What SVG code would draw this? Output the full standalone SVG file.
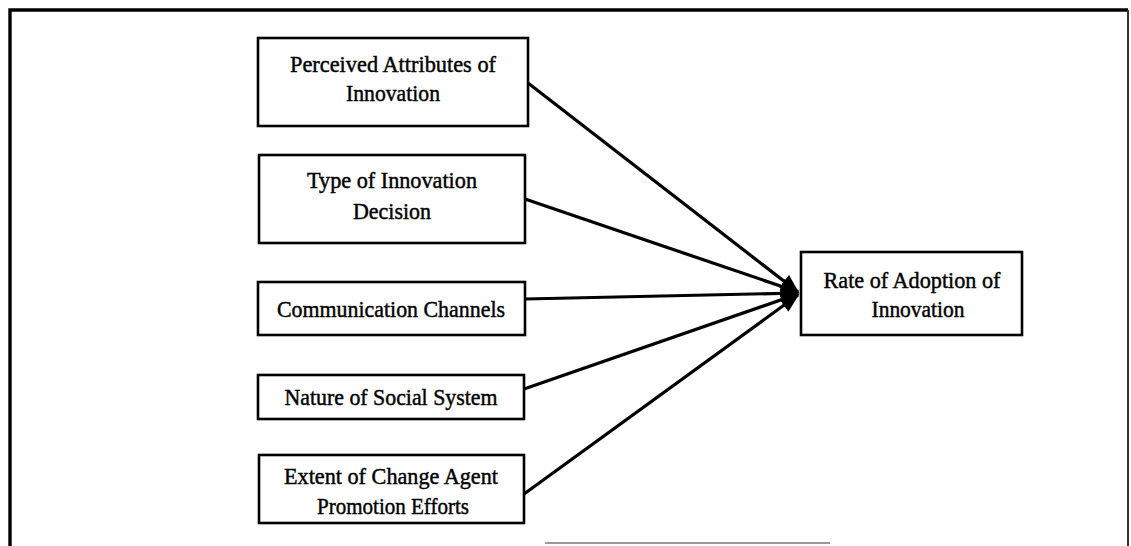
<svg xmlns="http://www.w3.org/2000/svg" width="1131" height="546" viewBox="0 0 1131 546">
  <style>
    .box { fill: #fff; stroke: #000; stroke-width: 2.6; }
    .lbl { font-family: "Liberation Serif", "Times New Roman", serif; font-size: 24px; fill: #000; stroke: #000; stroke-width: 0.45; text-anchor: middle; }
    .conn { stroke: #000; stroke-width: 3.2; fill: none; }
  </style>
  <defs>
    <marker id="arrow" markerWidth="6" markerHeight="5" refX="5.5" refY="2.5" orient="auto" markerUnits="strokeWidth">
      <path d="M0,0 L6,2.5 L0,5 Z" fill="#000"/>
    </marker>
  </defs>
  <rect width="1131" height="546" fill="#fff"/>
  <!-- outer frame: heavy top and left rules, lighter right rule -->
  <path d="M10,546 V10 H1128" fill="none" stroke="#000" stroke-width="3.4"/>
  <line x1="1128" y1="10" x2="1128" y2="546" stroke="#333" stroke-width="2"/>
  <line x1="545" y1="543" x2="830" y2="543" stroke="#777" stroke-width="1.5"/>

  <g id="connectors">
    <line class="conn" x1="528" y1="83" x2="798" y2="292" marker-end="url(#arrow)"/>
    <line class="conn" x1="525" y1="199" x2="798" y2="292" marker-end="url(#arrow)"/>
    <line class="conn" x1="525" y1="299" x2="798" y2="293" marker-end="url(#arrow)"/>
    <line class="conn" x1="524" y1="389" x2="798" y2="294" marker-end="url(#arrow)"/>
    <line class="conn" x1="524" y1="494" x2="798" y2="295" marker-end="url(#arrow)"/>
  </g>

  <g id="perceived-attributes">
    <rect class="box" x="258" y="38" width="270" height="88"/>
    <text class="lbl" x="393" y="72" textLength="206" lengthAdjust="spacingAndGlyphs">Perceived Attributes of</text>
    <text class="lbl" x="393" y="101" textLength="94" lengthAdjust="spacingAndGlyphs">Innovation</text>
  </g>
  <g id="innovation-decision">
    <rect class="box" x="259" y="155" width="266" height="88"/>
    <text class="lbl" x="392" y="188" textLength="170" lengthAdjust="spacingAndGlyphs">Type of Innovation</text>
    <text class="lbl" x="392" y="219" textLength="78" lengthAdjust="spacingAndGlyphs">Decision</text>
  </g>
  <g id="communication-channels">
    <rect class="box" x="258" y="282" width="267" height="53"/>
    <text class="lbl" x="391" y="317" textLength="228" lengthAdjust="spacingAndGlyphs">Communication Channels</text>
  </g>
  <g id="social-system">
    <rect class="box" x="258" y="375" width="266" height="44"/>
    <text class="lbl" x="391" y="405" textLength="213" lengthAdjust="spacingAndGlyphs">Nature of Social System</text>
  </g>
  <g id="change-agent">
    <rect class="box" x="259" y="455" width="265" height="68"/>
    <text class="lbl" x="391" y="484" textLength="214" lengthAdjust="spacingAndGlyphs">Extent of Change Agent</text>
    <text class="lbl" x="393" y="514" textLength="152" lengthAdjust="spacingAndGlyphs">Promotion Efforts</text>
  </g>
  <g id="rate-of-adoption">
    <rect class="box" x="801" y="252" width="221" height="83"/>
    <text class="lbl" x="912" y="288" textLength="177" lengthAdjust="spacingAndGlyphs">Rate of Adoption of</text>
    <text class="lbl" x="918" y="317" textLength="93" lengthAdjust="spacingAndGlyphs">Innovation</text>
  </g>
</svg>
